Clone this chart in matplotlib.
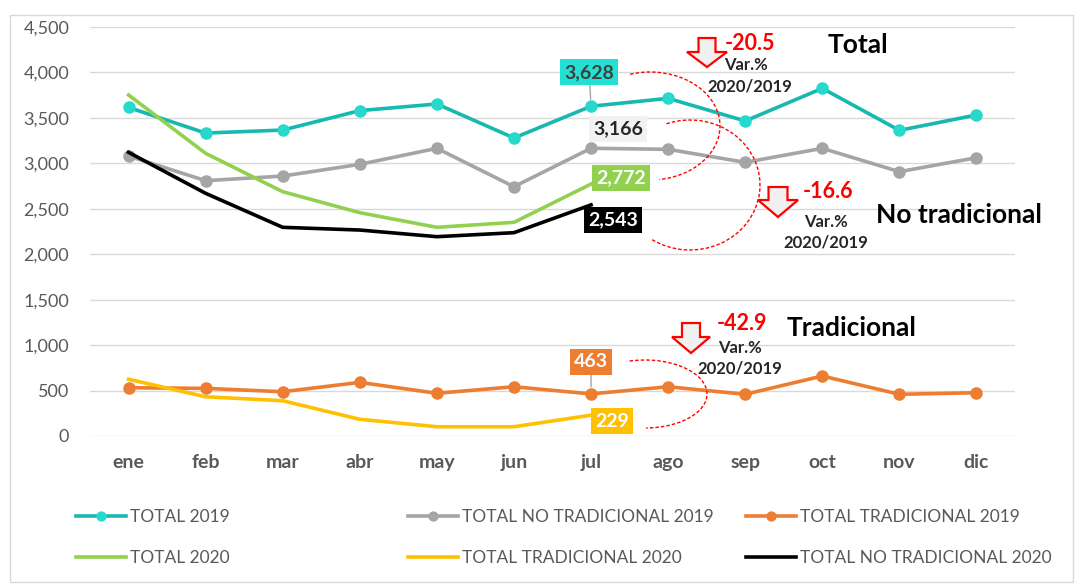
import matplotlib
matplotlib.use("Agg")
import matplotlib.pyplot as plt
from matplotlib.patches import Arc, Polygon, Rectangle
from matplotlib.ticker import FuncFormatter

plt.rcParams['font.family'] = ['Lato', 'DejaVu Sans']

# data
meses = ["ene", "feb", "mar", "abr", "may", "jun", "jul", "ago", "sep", "oct", "nov", "dic"]
total_2019 = [3615, 3333, 3366, 3580, 3653, 3279, 3628, 3715, 3466, 3825, 3363, 3532]
no_trad_2019 = [3080, 2809, 2860, 2989, 3165, 2743, 3166, 3154, 3011, 3165, 2908, 3062]
trad_2019 = [531, 524, 487, 590, 470, 542, 463, 542, 459, 660, 459, 476]
total_2020 = [3752, 3110, 2688, 2457, 2296, 2351, 2772]
trad_2020 = [624, 432, 388, 184, 102, 102, 229]
no_trad_2020 = [3121, 2670, 2296, 2266, 2193, 2237, 2543]

variaciones = ["-20.5", "-16.6", "-42.9"]
grupos = ["Total", "No tradicional", "Tradicional"]

W, H = 1077, 584
fig = plt.figure(figsize=(W / 100, H / 100), dpi=100)
fig.patch.set_facecolor("white")

ax = fig.add_axes([90 / W, 148 / H, 925 / W, 409 / H])
x19 = list(range(len(meses)))
x20 = list(range(len(total_2020)))

l1, = ax.plot(x19, total_2019, color="#17b8b0", lw=2.6, marker="o", ms=8,
              mfc="#27d8cc", mec="#27d8cc", label="TOTAL 2019", zorder=3)
l2, = ax.plot(x19, no_trad_2019, color="#a5a5a5", lw=2.6, marker="o", ms=8,
              label="TOTAL NO TRADICIONAL 2019", zorder=3)
l3, = ax.plot(x19, trad_2019, color="#ed7d31", lw=2.6, marker="o", ms=8,
              label="TOTAL TRADICIONAL 2019", zorder=3)
l4, = ax.plot(x20, total_2020, color="#92d050", lw=2.6, label="TOTAL 2020", zorder=4)
l5, = ax.plot(x20, trad_2020, color="#ffc000", lw=2.6, label="TOTAL TRADICIONAL 2020", zorder=4)
l6, = ax.plot(x20, no_trad_2020, color="#000000", lw=2.6, label="TOTAL NO TRADICIONAL 2020", zorder=4)

ax.set_xlim(-0.5, 11.5)
ax.set_ylim(0, 4500)
ax.set_yticks(range(0, 4501, 500))
ax.yaxis.set_major_formatter(FuncFormatter(lambda v, p: f"{int(v):,}"))
ax.set_xticks(x19)
ax.set_xticklabels(meses, fontweight="bold")
ax.tick_params(axis="y", length=0, pad=15, labelsize=13, labelcolor="#595959")
ax.tick_params(axis="x", length=0, pad=13, labelsize=14, labelcolor="#595959")
ax.grid(axis="y", color="#d9d9d9", lw=1)
ax.set_axisbelow(True)
for s in ax.spines.values():
    s.set_visible(False)

# data labels at jul
j = 6
etiquetas = [
    (total_2019[j], (-2, 34), "#22e0d2", "#404040", True),
    (no_trad_2019[j], (27, 19), "#f2f2f2", "#262626", False),
    (total_2020[j], (30, 6), "#92d050", "white", False),
    (no_trad_2020[j], (22, -15), "#000000", "white", False),
    (trad_2019[j], (0, 32), "#ed7d31", "white", True),
    (trad_2020[j], (21, -6), "#ffc000", "white", False),
]
for val, off, fc, tc, leader in etiquetas:
    kw = {}
    if leader:
        kw["arrowprops"] = dict(arrowstyle="-", color="#a5a5a5", lw=1, shrinkA=0, shrinkB=5)
    ax.annotate(f"{val:,}", xy=(j, val), xytext=off, textcoords="offset pixels",
                ha="center", va="center", fontsize=14, fontweight="bold", color=tc,
                bbox=dict(boxstyle="square,pad=0.22", fc=fc, ec="none"), zorder=6, **kw)

# overlay in pixel coordinates for the decorations
ov = fig.add_axes([0, 0, 1, 1], zorder=5)
ov.set_xlim(0, W)
ov.set_ylim(H, 0)
ov.axis("off")
ov.patch.set_alpha(0)

ov.add_patch(Rectangle((10, 15), W - 14, H - 17, fill=False, ec="#d9d9d9", lw=1))

# dashed red arcs
arcos = [((650, 126), 140, 108, -111, 80),
         ((690, 185), 140, 130, -111, 125),
         ((645, 394), 124, 68, -115, 88)]
for c, w, h, t1, t2 in arcos:
    ov.add_patch(Arc(c, w, h, theta1=t1, theta2=t2, color="red", lw=1, ls=(0, (2.5, 1.5))))


def flecha(cx, top, sw, hw, hy, tip):
    pts = [(cx - sw, top), (cx + sw, top), (cx + sw, hy), (cx + hw, hy),
           (cx, tip), (cx - hw, hy), (cx - sw, hy)]
    ov.add_patch(Polygon(pts, closed=True, fc="#f0f0f0", ec="red", lw=1.6, zorder=3))


flecha(707, 38, 8.5, 20, 52, 67)
flecha(778, 187, 9.5, 20, 200, 217)
flecha(691, 323, 9, 19, 337, 353)

# variation texts
pos_var = [((750, 43), (746, 65), (750, 87)),
           ((828, 192), (826, 222), (826, 243)),
           ((742, 324), (740, 348), (740, 369))]
for v, (p1, p2, p3) in zip(variaciones, pos_var):
    ov.text(*p1, v, color="red", fontsize=15.5, fontweight="bold", ha="center", va="center")
    ov.text(*p2, "Var.%", color="#262626", fontsize=12, fontweight="bold", ha="center", va="center")
    ov.text(*p3, "2020/2019", color="#262626", fontsize=12, fontweight="bold", ha="center", va="center")

pos_grp = [(828, 45), (876, 215), (787, 328)]
for g, p in zip(grupos, pos_grp):
    ov.text(*p, g, color="black", fontsize=19, fontweight="bold", ha="left", va="center")

# legend: three columns of two rows each
columnas = [(l1, l4), (l2, l5), (l3, l6)]
col_x = [76, 408, 746]
for hs, cx in zip(columnas, col_x):
    fig.legend(handles=list(hs), labels=[h.get_label() for h in hs],
               loc="upper left", bbox_to_anchor=(cx / W, (H - 509) / H),
               frameon=False, fontsize=12.5, labelcolor="#595959",
               handlelength=2.9, handletextpad=0.2, labelspacing=1.45,
               borderpad=0, borderaxespad=0, markerscale=0.8)

fig.savefig("out.png", dpi=100)
